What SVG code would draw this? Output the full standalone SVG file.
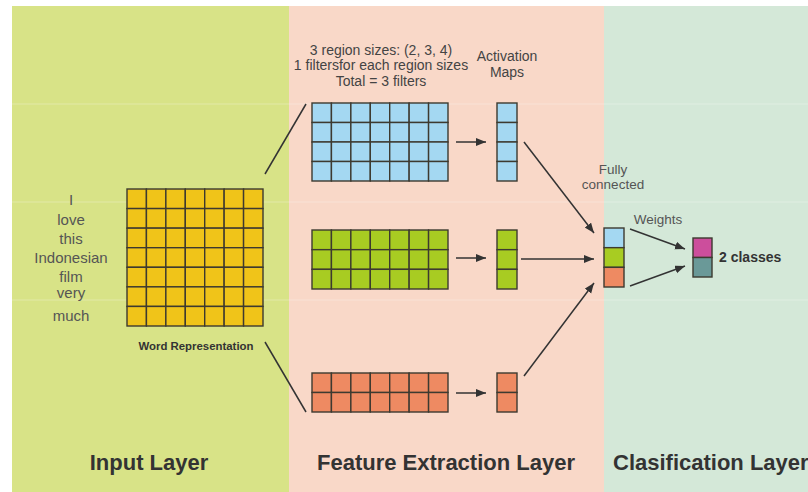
<svg xmlns="http://www.w3.org/2000/svg" width="808" height="492" viewBox="0 0 808 492">
<style>
text{font-family:"Liberation Sans",Arial,sans-serif}
.word{font-size:15px;fill:#555;text-anchor:middle}
.note{font-size:14px;fill:#444;text-anchor:middle}
.small{font-size:13.5px;fill:#555;text-anchor:middle}
.title{font-size:22px;font-weight:bold;fill:#333}
.cell{stroke:#3d3a30;stroke-width:1.4}
.y{fill:#f0c419}
.b{fill:#a4d8f2}
.g{fill:#a8cc22}
.o{fill:#ee8a62}
.conn{stroke:#333;stroke-width:1.5;fill:none}
.faint{stroke:#fff;stroke-opacity:0.28;stroke-width:1}
</style>
<defs>
<marker id="ah" markerUnits="userSpaceOnUse" markerWidth="11" markerHeight="9" refX="10" refY="4" orient="auto">
<path d="M0,0 L10,4 L0,8 z" fill="#333"/>
</marker>
</defs>
<rect width="808" height="492" fill="#fff"/>
<g id="panels">
<rect x="12" y="6" width="277" height="486" fill="#d8e387"/>
<rect x="289" y="6" width="315" height="486" fill="#f9d8c8"/>
<rect x="604" y="6" width="204" height="486" fill="#d4e8d8"/>
<line class="faint" x1="12" y1="104" x2="808" y2="104"/>
<line class="faint" x1="12" y1="202" x2="808" y2="202"/>
<line class="faint" x1="12" y1="300" x2="808" y2="300"/>
</g>
<g id="words">
<text class="word" x="71" y="205">I</text>
<text class="word" x="71" y="225">love</text>
<text class="word" x="71" y="244">this</text>
<text class="word" x="71" y="263">Indonesian</text>
<text class="word" x="71" y="282">film</text>
<text class="word" x="71" y="298">very</text>
<text class="word" x="71" y="321">much</text>
</g>
<g id="word-representation">
<g class="cell y">
<rect x="127" y="189" width="19.43" height="19.57"/><rect x="146.43" y="189" width="19.43" height="19.57"/><rect x="165.86" y="189" width="19.43" height="19.57"/><rect x="185.29" y="189" width="19.43" height="19.57"/><rect x="204.71" y="189" width="19.43" height="19.57"/><rect x="224.14" y="189" width="19.43" height="19.57"/><rect x="243.57" y="189" width="19.43" height="19.57"/>
<rect x="127" y="208.57" width="19.43" height="19.57"/><rect x="146.43" y="208.57" width="19.43" height="19.57"/><rect x="165.86" y="208.57" width="19.43" height="19.57"/><rect x="185.29" y="208.57" width="19.43" height="19.57"/><rect x="204.71" y="208.57" width="19.43" height="19.57"/><rect x="224.14" y="208.57" width="19.43" height="19.57"/><rect x="243.57" y="208.57" width="19.43" height="19.57"/>
<rect x="127" y="228.14" width="19.43" height="19.57"/><rect x="146.43" y="228.14" width="19.43" height="19.57"/><rect x="165.86" y="228.14" width="19.43" height="19.57"/><rect x="185.29" y="228.14" width="19.43" height="19.57"/><rect x="204.71" y="228.14" width="19.43" height="19.57"/><rect x="224.14" y="228.14" width="19.43" height="19.57"/><rect x="243.57" y="228.14" width="19.43" height="19.57"/>
<rect x="127" y="247.71" width="19.43" height="19.57"/><rect x="146.43" y="247.71" width="19.43" height="19.57"/><rect x="165.86" y="247.71" width="19.43" height="19.57"/><rect x="185.29" y="247.71" width="19.43" height="19.57"/><rect x="204.71" y="247.71" width="19.43" height="19.57"/><rect x="224.14" y="247.71" width="19.43" height="19.57"/><rect x="243.57" y="247.71" width="19.43" height="19.57"/>
<rect x="127" y="267.29" width="19.43" height="19.57"/><rect x="146.43" y="267.29" width="19.43" height="19.57"/><rect x="165.86" y="267.29" width="19.43" height="19.57"/><rect x="185.29" y="267.29" width="19.43" height="19.57"/><rect x="204.71" y="267.29" width="19.43" height="19.57"/><rect x="224.14" y="267.29" width="19.43" height="19.57"/><rect x="243.57" y="267.29" width="19.43" height="19.57"/>
<rect x="127" y="286.86" width="19.43" height="19.57"/><rect x="146.43" y="286.86" width="19.43" height="19.57"/><rect x="165.86" y="286.86" width="19.43" height="19.57"/><rect x="185.29" y="286.86" width="19.43" height="19.57"/><rect x="204.71" y="286.86" width="19.43" height="19.57"/><rect x="224.14" y="286.86" width="19.43" height="19.57"/><rect x="243.57" y="286.86" width="19.43" height="19.57"/>
<rect x="127" y="306.43" width="19.43" height="19.57"/><rect x="146.43" y="306.43" width="19.43" height="19.57"/><rect x="165.86" y="306.43" width="19.43" height="19.57"/><rect x="185.29" y="306.43" width="19.43" height="19.57"/><rect x="204.71" y="306.43" width="19.43" height="19.57"/><rect x="224.14" y="306.43" width="19.43" height="19.57"/><rect x="243.57" y="306.43" width="19.43" height="19.57"/>
</g>
<text x="196" y="350" style="font-size:11.4px;font-weight:bold;fill:#333;text-anchor:middle">Word Representation</text>
</g>
<g id="filter-info">
<text class="note" x="381" y="55">3 region sizes: (2, 3, 4)</text>
<text class="note" x="381" y="70">1 filtersfor each region sizes</text>
<text class="note" x="381" y="86">Total = 3 filters</text>
</g>
<g id="activation-label">
<text class="note" x="507" y="61">Activation</text>
<text class="note" x="507" y="77">Maps</text>
</g>
<g id="filter-blue" class="cell b">
<rect x="312" y="103" width="19.43" height="19.5"/><rect x="331.43" y="103" width="19.43" height="19.5"/><rect x="350.86" y="103" width="19.43" height="19.5"/><rect x="370.29" y="103" width="19.43" height="19.5"/><rect x="389.71" y="103" width="19.43" height="19.5"/><rect x="409.14" y="103" width="19.43" height="19.5"/><rect x="428.57" y="103" width="19.43" height="19.5"/>
<rect x="312" y="122.5" width="19.43" height="19.5"/><rect x="331.43" y="122.5" width="19.43" height="19.5"/><rect x="350.86" y="122.5" width="19.43" height="19.5"/><rect x="370.29" y="122.5" width="19.43" height="19.5"/><rect x="389.71" y="122.5" width="19.43" height="19.5"/><rect x="409.14" y="122.5" width="19.43" height="19.5"/><rect x="428.57" y="122.5" width="19.43" height="19.5"/>
<rect x="312" y="142" width="19.43" height="19.5"/><rect x="331.43" y="142" width="19.43" height="19.5"/><rect x="350.86" y="142" width="19.43" height="19.5"/><rect x="370.29" y="142" width="19.43" height="19.5"/><rect x="389.71" y="142" width="19.43" height="19.5"/><rect x="409.14" y="142" width="19.43" height="19.5"/><rect x="428.57" y="142" width="19.43" height="19.5"/>
<rect x="312" y="161.5" width="19.43" height="19.5"/><rect x="331.43" y="161.5" width="19.43" height="19.5"/><rect x="350.86" y="161.5" width="19.43" height="19.5"/><rect x="370.29" y="161.5" width="19.43" height="19.5"/><rect x="389.71" y="161.5" width="19.43" height="19.5"/><rect x="409.14" y="161.5" width="19.43" height="19.5"/><rect x="428.57" y="161.5" width="19.43" height="19.5"/>
</g>
<g id="filter-green" class="cell g">
<rect x="312" y="230" width="19.43" height="19.67"/><rect x="331.43" y="230" width="19.43" height="19.67"/><rect x="350.86" y="230" width="19.43" height="19.67"/><rect x="370.29" y="230" width="19.43" height="19.67"/><rect x="389.71" y="230" width="19.43" height="19.67"/><rect x="409.14" y="230" width="19.43" height="19.67"/><rect x="428.57" y="230" width="19.43" height="19.67"/>
<rect x="312" y="249.67" width="19.43" height="19.67"/><rect x="331.43" y="249.67" width="19.43" height="19.67"/><rect x="350.86" y="249.67" width="19.43" height="19.67"/><rect x="370.29" y="249.67" width="19.43" height="19.67"/><rect x="389.71" y="249.67" width="19.43" height="19.67"/><rect x="409.14" y="249.67" width="19.43" height="19.67"/><rect x="428.57" y="249.67" width="19.43" height="19.67"/>
<rect x="312" y="269.33" width="19.43" height="19.67"/><rect x="331.43" y="269.33" width="19.43" height="19.67"/><rect x="350.86" y="269.33" width="19.43" height="19.67"/><rect x="370.29" y="269.33" width="19.43" height="19.67"/><rect x="389.71" y="269.33" width="19.43" height="19.67"/><rect x="409.14" y="269.33" width="19.43" height="19.67"/><rect x="428.57" y="269.33" width="19.43" height="19.67"/>
</g>
<g id="filter-orange" class="cell o">
<rect x="312" y="373" width="19.43" height="19.5"/><rect x="331.43" y="373" width="19.43" height="19.5"/><rect x="350.86" y="373" width="19.43" height="19.5"/><rect x="370.29" y="373" width="19.43" height="19.5"/><rect x="389.71" y="373" width="19.43" height="19.5"/><rect x="409.14" y="373" width="19.43" height="19.5"/><rect x="428.57" y="373" width="19.43" height="19.5"/>
<rect x="312" y="392.5" width="19.43" height="19.5"/><rect x="331.43" y="392.5" width="19.43" height="19.5"/><rect x="350.86" y="392.5" width="19.43" height="19.5"/><rect x="370.29" y="392.5" width="19.43" height="19.5"/><rect x="389.71" y="392.5" width="19.43" height="19.5"/><rect x="409.14" y="392.5" width="19.43" height="19.5"/><rect x="428.57" y="392.5" width="19.43" height="19.5"/>
</g>
<g id="map-blue" class="cell b">
<rect x="497" y="103" width="20" height="19.5"/><rect x="497" y="122.5" width="20" height="19.5"/><rect x="497" y="142" width="20" height="19.5"/><rect x="497" y="161.5" width="20" height="19.5"/>
</g>
<g id="map-green" class="cell g">
<rect x="497" y="230" width="20" height="19.67"/><rect x="497" y="249.67" width="20" height="19.67"/><rect x="497" y="269.33" width="20" height="19.67"/>
</g>
<g id="map-orange" class="cell o">
<rect x="497" y="373" width="20" height="19.5"/><rect x="497" y="392.5" width="20" height="19.5"/>
</g>
<g id="fully-connected">
<g class="cell">
<rect x="604" y="228" width="20" height="19.67" class="b"/>
<rect x="604" y="247.67" width="20" height="19.67" class="g"/>
<rect x="604" y="267.33" width="20" height="19.67" class="o"/>
</g>
<text class="small" x="613" y="174">Fully</text>
<text class="small" x="613" y="189">connected</text>
</g>
<g id="output">
<g class="cell">
<rect x="693" y="238" width="19" height="19.5" fill="#cc4e9c"/>
<rect x="693" y="257.5" width="19" height="19.5" fill="#6a9998"/>
</g>
<text x="719" y="262" style="font-size:14px;font-weight:bold;fill:#333">2 classes</text>
</g>
<g id="connectors">
<line class="conn" x1="265" y1="174" x2="306" y2="104"/>
<line class="conn" x1="265" y1="342" x2="306" y2="412"/>
<line class="conn" x1="456" y1="142" x2="486" y2="142" marker-end="url(#ah)"/>
<line class="conn" x1="456" y1="258" x2="486" y2="258" marker-end="url(#ah)"/>
<line class="conn" x1="456" y1="393" x2="486" y2="393" marker-end="url(#ah)"/>
<line class="conn" x1="524" y1="142" x2="594" y2="233" marker-end="url(#ah)"/>
<line class="conn" x1="521" y1="259" x2="594" y2="259" marker-end="url(#ah)"/>
<line class="conn" x1="524" y1="376" x2="594" y2="283" marker-end="url(#ah)"/>
<line class="conn" x1="630" y1="229" x2="685" y2="249" marker-end="url(#ah)"/>
<line class="conn" x1="630" y1="286" x2="685" y2="266" marker-end="url(#ah)"/>
<text class="small" x="658" y="224">Weights</text>
</g>
<g id="layer-titles">
<text class="title" x="149" y="470" text-anchor="middle">Input Layer</text>
<text class="title" x="446" y="470" text-anchor="middle">Feature Extraction Layer</text>
<text class="title" x="613" y="470">Clasification Layer</text>
</g>
</svg>
